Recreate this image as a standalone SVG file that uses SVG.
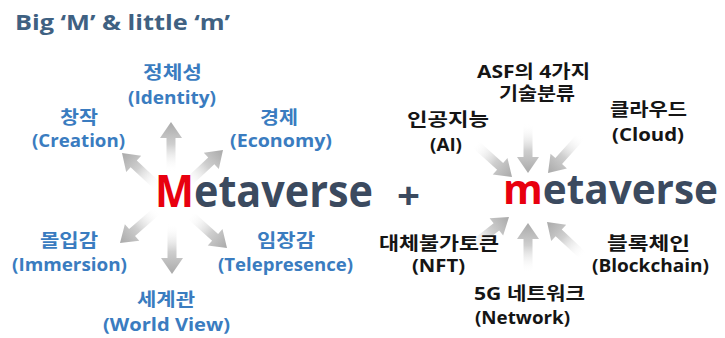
<svg xmlns="http://www.w3.org/2000/svg" xmlns:xlink="http://www.w3.org/1999/xlink" width="725" height="338" viewBox="0 0 725 338">
  <style>
    text { font-family: "Open Sans", "Noto Sans CJK KR", sans-serif; font-weight: bold; }
    .lbl { font-size: 18px; fill: #3a7cc0; text-anchor: start; }
    .rl { font-size: 18px; fill: #151515; text-anchor: start; }
    .big { font-size: 44px; fill: #3b4a5f; }
    .red { fill: #e8000f; }
    .title { font-size: 22px; fill: #3f6182; }
  </style>
  <defs>
    <linearGradient id="ag" x1="0" y1="0" x2="1" y2="0">
      <stop offset="0" stop-color="#ffffff" stop-opacity="0"/>
      <stop offset="0.55" stop-color="#cfcfcf"/>
      <stop offset="1" stop-color="#a9a9a9"/>
    </linearGradient>
    <path id="arr" d="M -50,-4.5 L -16,-4.5 L -16,-11 L 0,0 L -16,11 L -16,4.5 L -50,4.5 Z" fill="url(#ag)"/>
  </defs>
  <rect width="725" height="338" fill="#ffffff"/>

  <text class="title" x="15" y="30" textLength="215" lengthAdjust="spacingAndGlyphs">Big ‘M’ &amp; little ‘m’</text>

  <g id="connectors">
    <!-- Big M: outward -->
    <use xlink:href="#arr" href="#arr" transform="translate(171,122) rotate(-90)"/>
    <use xlink:href="#arr" href="#arr" transform="translate(122,153) rotate(-137)"/>
    <use xlink:href="#arr" href="#arr" transform="translate(223,150) rotate(-43)"/>
    <use xlink:href="#arr" href="#arr" transform="translate(120,243) rotate(139)"/>
    <use xlink:href="#arr" href="#arr" transform="translate(172,274) rotate(90)"/>
    <use xlink:href="#arr" href="#arr" transform="translate(227,248) rotate(42)"/>
    <!-- little m: inward -->
    <use xlink:href="#arr" href="#arr" transform="translate(528,173) rotate(90)"/>
    <use xlink:href="#arr" href="#arr" transform="translate(512,177) rotate(42)"/>
    <use xlink:href="#arr" href="#arr" transform="translate(548,173) rotate(132)"/>
    <use xlink:href="#arr" href="#arr" transform="translate(509,217) rotate(-38)"/>
    <use xlink:href="#arr" href="#arr" transform="translate(528,223) rotate(-90)"/>
    <use xlink:href="#arr" href="#arr" transform="translate(547,222) rotate(-137)"/>
  </g>

  <g id="Metaverse">
    <text class="big" x="155" y="207" textLength="218" lengthAdjust="spacingAndGlyphs"><tspan class="red">M</tspan>etaverse</text>
  </g>
  <g id="plus">
    <text class="big" x="397" y="209" style="font-size:38px" textLength="23" lengthAdjust="spacingAndGlyphs">+</text>
  </g>
  <g id="metaverse">
    <text class="big" x="503" y="204" style="font-size:41px" textLength="215" lengthAdjust="spacingAndGlyphs"><tspan class="red">m</tspan>etaverse</text>
  </g>

  <g id="identity">
    <text class="lbl" x="143" y="79" textLength="59" lengthAdjust="spacingAndGlyphs">정체성</text>
    <text class="lbl" x="128" y="104" textLength="88" lengthAdjust="spacingAndGlyphs">(Identity)</text>
  </g>
  <g id="creation">
    <text class="lbl" x="60" y="124" textLength="38" lengthAdjust="spacingAndGlyphs">창작</text>
    <text class="lbl" x="32" y="147" textLength="93" lengthAdjust="spacingAndGlyphs">(Creation)</text>
  </g>
  <g id="economy">
    <text class="lbl" x="260" y="124" textLength="38" lengthAdjust="spacingAndGlyphs">경제</text>
    <text class="lbl" x="230" y="147" textLength="102" lengthAdjust="spacingAndGlyphs">(Economy)</text>
  </g>
  <g id="immersion">
    <text class="lbl" x="40" y="247" textLength="58" lengthAdjust="spacingAndGlyphs">몰입감</text>
    <text class="lbl" x="12" y="271" textLength="115" lengthAdjust="spacingAndGlyphs">(Immersion)</text>
  </g>
  <g id="telepresence">
    <text class="lbl" x="257" y="247" textLength="58" lengthAdjust="spacingAndGlyphs">임장감</text>
    <text class="lbl" x="218" y="271" textLength="135" lengthAdjust="spacingAndGlyphs">(Telepresence)</text>
  </g>
  <g id="worldview">
    <text class="lbl" x="137" y="306" textLength="58" lengthAdjust="spacingAndGlyphs">세계관</text>
    <text class="lbl" x="103" y="331" textLength="127" lengthAdjust="spacingAndGlyphs">(World View)</text>
  </g>

  <g id="asf">
    <text class="rl" x="477" y="78" textLength="113" lengthAdjust="spacingAndGlyphs">ASF의 4가지</text>
    <text class="rl" x="499" y="100" textLength="76" lengthAdjust="spacingAndGlyphs">기술분류</text>
  </g>
  <g id="ai">
    <text class="rl" x="407" y="126" textLength="82" lengthAdjust="spacingAndGlyphs">인공지능</text>
    <text class="rl" x="430" y="151" textLength="32" lengthAdjust="spacingAndGlyphs">(AI)</text>
  </g>
  <g id="cloud">
    <text class="rl" x="610" y="116" textLength="77" lengthAdjust="spacingAndGlyphs">클라우드</text>
    <text class="rl" x="612" y="141" textLength="72" lengthAdjust="spacingAndGlyphs">(Cloud)</text>
  </g>
  <g id="nft">
    <text class="rl" x="379" y="250" textLength="120" lengthAdjust="spacingAndGlyphs">대체불가토큰</text>
    <text class="rl" x="412" y="272" textLength="53" lengthAdjust="spacingAndGlyphs">(NFT)</text>
  </g>
  <g id="blockchain">
    <text class="rl" x="607" y="250" textLength="83" lengthAdjust="spacingAndGlyphs">블록체인</text>
    <text class="rl" x="592" y="272" textLength="117" lengthAdjust="spacingAndGlyphs">(Blockchain)</text>
  </g>
  <g id="network">
    <text class="rl" x="474" y="300" textLength="111" lengthAdjust="spacingAndGlyphs">5G 네트워크</text>
    <text class="rl" x="475" y="324" textLength="95" lengthAdjust="spacingAndGlyphs">(Network)</text>
  </g>
</svg>
